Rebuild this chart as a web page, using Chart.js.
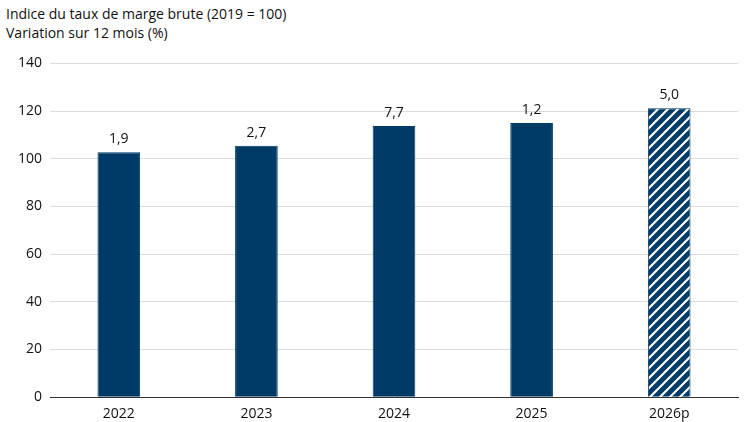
<!DOCTYPE html>
<html>
<head>
<meta charset="utf-8">
<script src="https://cdn.jsdelivr.net/npm/chart.js@4"></script>
<style>
  body { margin: 0; background: #fff; font-family: "Open Sans", sans-serif; }
  #wrap { width: 750px; height: 422px; position: relative; overflow: hidden; }
  #title { position: absolute; left: 6px; top: 4px; font-size: 14px; line-height: 19px; color: #111; }
  #box { position: absolute; left: 0; top: 47px; width: 748px; height: 375px; }
</style>
</head>
<body>
<div id="wrap">
  <div id="title">Indice du taux de marge brute (2019 = 100)<br>Variation sur 12 mois (%)</div>
  <div id="box"><canvas id="Chart"></canvas></div>
</div>
<script>
// values
const years = ["2022", "2023", "2024", "2025", "2026p"];
const index = [102.7, 105.5, 113.7, 115.0, 121.2];
const change = ["1,9", "2,7", "7,7", "1,2", "5,0"];

const navy = "#003a66";

// hatch for the forecast bar
function hatch(){
  const c = document.createElement("canvas");
  c.width = 10; c.height = 10;
  const g = c.getContext("2d");
  g.fillStyle = navy;
  g.fillRect(0, 0, 10, 10);
  g.strokeStyle = "#fff";
  g.lineWidth = 2.2;
  g.beginPath();
  g.moveTo(-2, 12); g.lineTo(12, -2);
  g.moveTo(-2, 2); g.lineTo(2, -2);
  g.moveTo(8, 12); g.lineTo(12, 8);
  g.stroke();
  return g.createPattern(c, "repeat");
}

const colors = years.map((y, i) => i == years.length - 1 ? hatch() : navy);

const labelsPlugin = {
  id: "labels",
  afterDatasetsDraw(chart){
    const ctx = chart.ctx;
    const meta = chart.getDatasetMeta(0);
    ctx.save();
    ctx.font = "14px 'Open Sans'";
    ctx.fillStyle = "#111";
    ctx.textAlign = "center";
    ctx.textBaseline = "bottom";
    meta.data.forEach((bar, i) => {
      ctx.fillText(change[i], bar.x, bar.y - 6);
    });
    ctx.restore();
  }
};

new Chart("Chart", {
  type: "bar",
  data: {
    labels: years,
    datasets: [{
      data: index,
      backgroundColor: colors,
      borderColor: navy,
      borderWidth: 1,
      barPercentage: 0.31,
      categoryPercentage: 1
    }]
  },
  options: {
    responsive: true,
    maintainAspectRatio: false,
    animation: false,
    layout: { padding: { left: 10, right: 10, top: 8 } },
    plugins: { legend: { display: false }, tooltip: { enabled: false } },
    scales: {
      x: {
        grid: { display: false },
        border: { color: "#333" },
        ticks: { padding: 0, color: "#111", font: { size: 14, family: "Open Sans" } }
      },
      y: {
        min: 0, max: 140,
        ticks: { stepSize: 20, padding: 8, color: "#111", font: { size: 14, family: "Open Sans" } },
        grid: { color: "#dcdcdc", drawTicks: false },
        border: { display: false }
      }
    }
  },
  plugins: [labelsPlugin]
});
</script>
</body>
</html>
